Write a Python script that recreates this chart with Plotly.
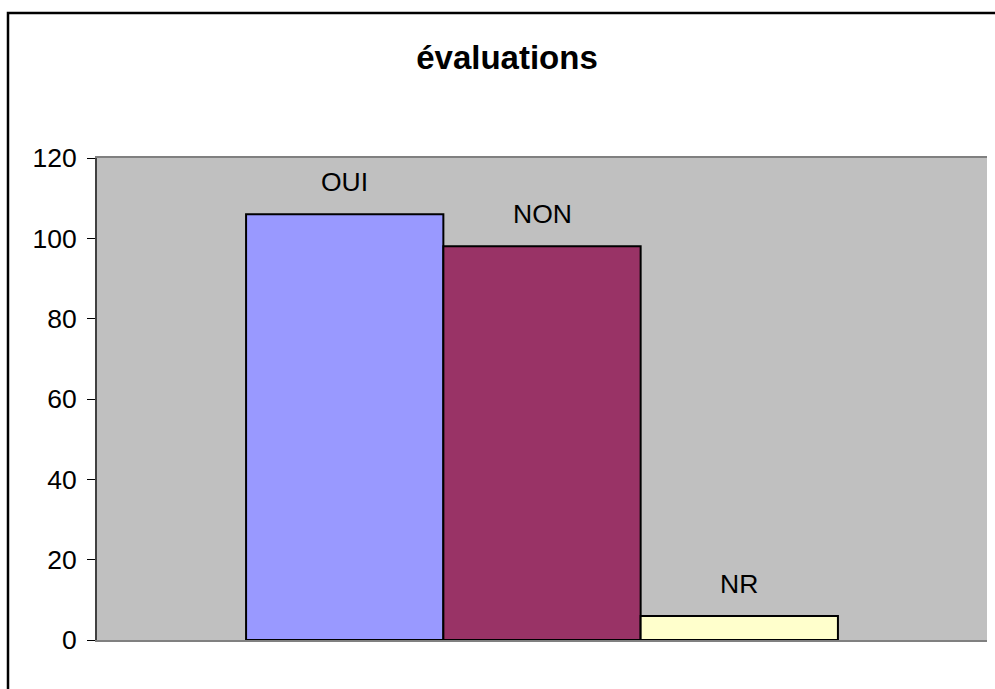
import plotly.graph_objects as go

# Survey answers for the single "évaluations" question
series_names = ["OUI", "NON", "NR"]
series_values = [106, 98, 6]
series_colors = ["#9999FF", "#993366", "#FFFFCC"]
category = ["évaluations"]
y_ticks = [0, 20, 40, 60, 80, 100, 120]

LABEL_FONT = "Liberation Sans, Arial"

fig = go.Figure()
for name, val, col in zip(series_names, series_values, series_colors):
    fig.add_trace(go.Bar(
        x=category, y=[val], name=name,
        marker=dict(color=col, line=dict(color="black", width=2)),
        showlegend=False,
    ))
    fig.add_annotation(
        x=category[0], y=val, text=name, showarrow=False,
        xref="x", yref="y", yanchor="bottom", yshift=15,
        font=dict(family=LABEL_FONT, size=26.5, color="black"),
    )

offsets = [-1, 0, 1]

fig.update_layout(
    width=995, height=689,
    margin=dict(l=97, r=8, t=158, b=49),
    paper_bgcolor="white",
    plot_bgcolor="#C0C0C0",
    barmode="group",
    bargap=0.335,
    bargroupgap=0,
    font=dict(family="Liberation Sans, Arial", color="black"),
    title=dict(
        text="<b>évaluations</b>",
        x=507 / 995, xref="container", xanchor="center",
        y=1 - 57 / 689, yref="container", yanchor="middle",
        font=dict(family="Liberation Sans, Arial", size=33, color="black"),
    ),
    xaxis=dict(
        showticklabels=False, ticks="",
        showline=True, linecolor="#808080", linewidth=2, mirror=True,
        showgrid=False, zeroline=False,
    ),
    yaxis=dict(
        range=[0, 120], tickvals=y_ticks,
        ticks="outside", ticklen=8, tickcolor="black", tickwidth=1,
        ticklabelstandoff=5,
        tickfont=dict(family=LABEL_FONT, size=26.5, color="black"),
        showline=True, linecolor="#404040", linewidth=2,
        showgrid=False, zeroline=False,
    ),
)

# Place each series label over its bar within the single category group
plot_w = 995 - 97 - 8
bar_w_frac = (1 - 0.335) / 3
for ann, off in zip(fig.layout.annotations, offsets):
    ann.xshift = off * bar_w_frac * plot_w

# Outer chart frame
fig.add_shape(
    type="rect", xref="paper", yref="paper",
    x0=(8 - 97) / plot_w, x1=1.1,
    y0=-0.3, y1=1 + (158 - 13) / 482,
    line=dict(color="black", width=2.5), fillcolor="rgba(0,0,0,0)",
    layer="above",
)

fig.write_html("out.html")
